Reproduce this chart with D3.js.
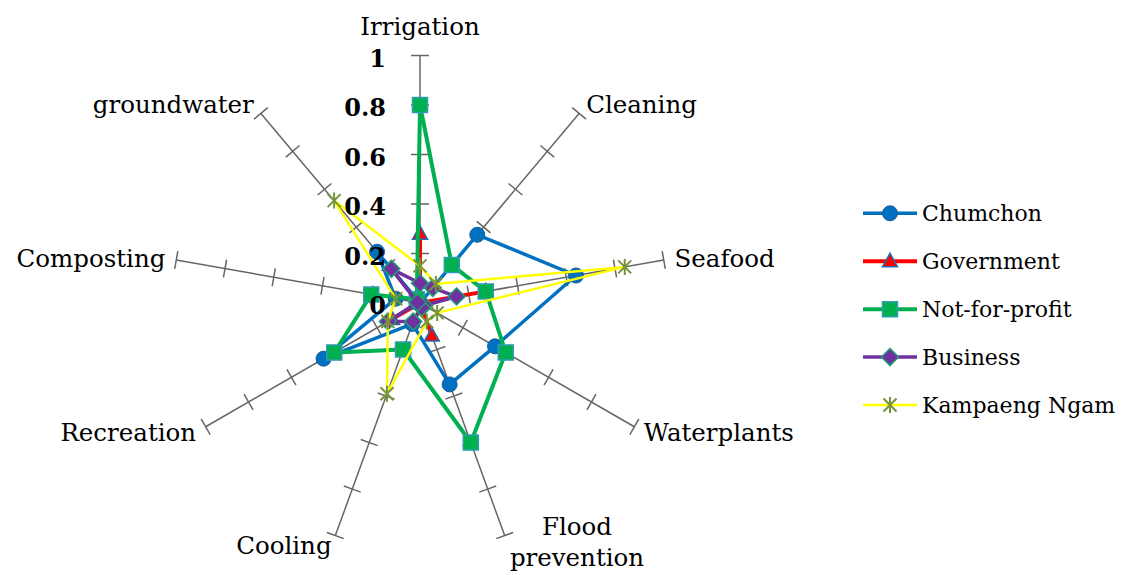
<!DOCTYPE html>
<html>
<head>
<meta charset="utf-8">
<script src="https://cdn.jsdelivr.net/npm/d3@7"></script>
<style>
  body { margin: 0; background: #fff; }
  svg { display: block; }
</style>
</head>
<body>
<svg id="chart" width="1122" height="575"></svg>
<script>
// Water-use categories around the radar, clockwise from the top
const categories = ["Irrigation", "Cleaning", "Seafood", "Waterplants", "Flood prevention",
                    "Cooling", "Recreation", "Composting", "groundwater"];

// Scores per stakeholder group (same order as categories)
const chumchon     = [0.00, 0.36, 0.64, 0.35, 0.35, 0.09, 0.45, 0.10, 0.27];
const government   = [0.28, 0.00, 0.27, 0.00, 0.14, 0.00, 0.13, 0.00, 0.00];
const notForProfit = [0.80, 0.20, 0.27, 0.40, 0.60, 0.20, 0.40, 0.20, 0.02];
const business     = [0.08, 0.08, 0.15, 0.02, 0.02, 0.08, 0.15, 0.01, 0.18];
const kampaengNgam = [0.15, 0.10, 0.84, 0.08, 0.08, 0.39, 0.15, 0.10, 0.54];

const seriesNames = ["Chumchon", "Government", "Not-for-profit", "Business", "Kampaeng Ngam"];
const seriesValues = [chumchon, government, notForProfit, business, kampaengNgam];

// Radial axis ticks
const tickValues = [0, 0.2, 0.4, 0.6, 0.8, 1];
const tickLabels = ["0", "0.2", "0.4", "0.6", "0.8", "1"];

const styles = [
  { line: "#0070C0", width: 3.5,  marker: "circle",   fill: "#0070C0", stroke: "#1F5A96", sw: 1 },
  { line: "#FF0000", width: 4,    marker: "triangle", fill: "#FF0000", stroke: "#1F6FB4", sw: 1.5 },
  { line: "#00B050", width: 4,    marker: "square",   fill: "#00B050", stroke: "#2E9DB0", sw: 1.5 },
  { line: "#7030A0", width: 3.5,  marker: "diamond",  fill: "#7030A0", stroke: "#1E9E72", sw: 1.5 },
  { line: "#FFFF00", width: 2.5,  marker: "star",     fill: "none",    stroke: "#77933C", sw: 2 }
];

const cx = 420, cy = 303, R = 247.5;
const labelFont = "'DejaVu Serif', serif";

const svg = d3.select("#chart");
const r = d3.scaleLinear().domain([0, 1]).range([0, R]);
const n = categories.length;
const angle = d3.scaleLinear().domain([0, n]).range([0, 2 * Math.PI]);

const g = svg.append("g").attr("transform", `translate(${cx},${cy})`);

// Spokes with cross ticks
const spokes = g.append("g").attr("class", "spokes");
categories.forEach((c, i) => {
  const a = angle(i);
  const sx = Math.sin(a), sy = -Math.cos(a);
  spokes.append("line")
    .attr("x1", 0).attr("y1", 0)
    .attr("x2", r(1) * sx).attr("y2", r(1) * sy)
    .attr("stroke", "#666").attr("stroke-width", 1.5);
  tickValues.filter(v => v > 0).forEach(v => {
    const px = r(v) * sx, py = r(v) * sy;
    const tx = -sy * 9, ty = sx * 9;
    spokes.append("line")
      .attr("x1", px - tx).attr("y1", py - ty)
      .attr("x2", px + tx).attr("y2", py + ty)
      .attr("stroke", "#666").attr("stroke-width", 1.5);
  });
});

// Category labels
const labelG = svg.append("g").attr("font-family", labelFont).attr("font-size", 24.5).attr("fill", "#000");
categories.forEach((c, i) => {
  const a = angle(i);
  const sx = Math.sin(a), cyv = Math.cos(a);
  const pad = 11;
  if (c === "Irrigation") {
    labelG.append("text").attr("x", cx).attr("y", 35).attr("text-anchor", "middle").text(c);
    return;
  }
  if (c === "Flood prevention") {
    const t = labelG.append("text").attr("text-anchor", "middle");
    t.append("tspan").attr("x", 577).attr("y", 535).text("Flood");
    t.append("tspan").attr("x", 577).attr("y", 566).text("prevention");
    return;
  }
  const x = cx + (r(1) + pad) * sx;
  const y = cy - (r(1) + pad) * cyv + 8.5;
  labelG.append("text")
    .attr("x", x).attr("y", y)
    .attr("text-anchor", sx > 0 ? "start" : "end")
    .text(c);
});

// Series polygons and markers
const radial = d3.lineRadial()
  .angle((d, i) => angle(i))
  .radius(d => r(d))
  .curve(d3.curveLinearClosed);

function markerPath(type) {
  switch (type) {
    case "circle": return d3.symbol(d3.symbolCircle, Math.PI * 7.5 * 7.5)();
    case "triangle": return "M0,-8L7.5,5.5L-7.5,5.5Z";
    case "square": return "M-7.5,-7.5H7.5V7.5H-7.5Z";
    case "diamond": return "M0,-8.5L8.5,0L0,8.5L-8.5,0Z";
    case "star": return "M-6.5,-6.5L6.5,6.5M-6.5,6.5L6.5,-6.5M0,-8L0,8";
  }
}

seriesValues.forEach((vals, si) => {
  const st = styles[si];
  const sg = g.append("g").attr("class", "series");
  sg.append("path")
    .attr("d", radial(vals))
    .attr("fill", "none")
    .attr("stroke", st.line)
    .attr("stroke-width", st.width)
    .attr("stroke-linejoin", "round");
  sg.selectAll("path.mk").data(vals).join("path")
    .attr("class", "mk")
    .attr("transform", (d, i) => `translate(${r(d) * Math.sin(angle(i))},${-r(d) * Math.cos(angle(i))})`)
    .attr("d", markerPath(st.marker))
    .attr("fill", st.fill)
    .attr("stroke", st.stroke)
    .attr("stroke-width", st.sw);
});

// Radial tick labels along the top spoke
const tickG = svg.append("g").attr("font-family", labelFont).attr("font-weight", "bold").attr("font-size", 24);
tickValues.forEach((v, i) => {
  tickG.append("text")
    .attr("x", 386)
    .attr("y", cy - r(v) + 11)
    .attr("text-anchor", "end")
    .text(tickLabels[i]);
});

// Legend
const legend = svg.append("g").attr("font-family", labelFont).attr("font-size", 22);
const legendY = d3.scalePoint().domain(seriesNames).range([213.3, 405]);
const legendMaxWidth = 194;
seriesNames.forEach((name, si) => {
  const st = styles[si];
  const y = legendY(name);
  legend.append("line")
    .attr("x1", 863).attr("x2", 917).attr("y1", y).attr("y2", y)
    .attr("stroke", st.line).attr("stroke-width", st.width);
  legend.append("path")
    .attr("transform", `translate(890,${y})`)
    .attr("d", markerPath(st.marker))
    .attr("fill", st.fill).attr("stroke", st.stroke).attr("stroke-width", st.sw);
  const t = legend.append("text")
    .attr("x", 922).attr("y", y + 8)
    .text(name);
  if (t.node().getComputedTextLength() > legendMaxWidth) {
    t.attr("textLength", legendMaxWidth).attr("lengthAdjust", "spacingAndGlyphs");
  }
});
</script>
</body>
</html>
